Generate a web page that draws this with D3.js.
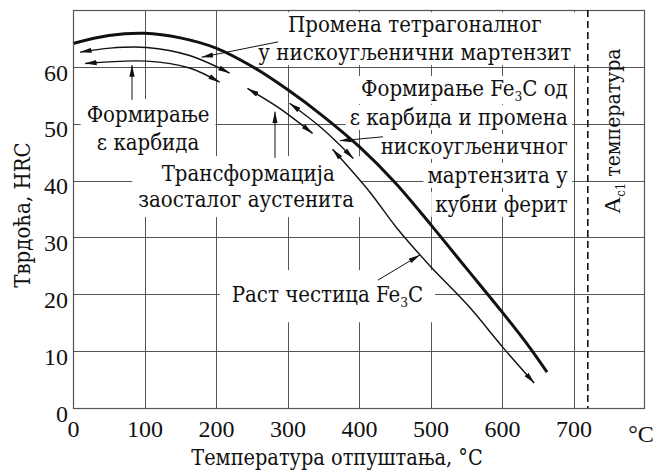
<!DOCTYPE html>
<html><head><meta charset="utf-8">
<script src="https://cdn.jsdelivr.net/npm/d3@7"></script>
<style>
html,body{margin:0;padding:0;background:#fff;}
svg{display:block;}
</style></head><body>
<svg id="chart" width="655" height="470"></svg>
<script>
// ---------------- data ----------------
const xTicks = [0, 100, 200, 300, 400, 500, 600, 700];
const yTicks = [0, 10, 20, 30, 40, 50, 60];
const tempDomain = [0, 800];
const hrcDomain = [0, 70];
const ac1Temp = 720;

// main curve: hardness vs tempering temperature
const hardnessTemp = [0, 50, 100, 150, 200, 250, 300, 350, 400, 450, 500, 550, 600, 636, 663];
const hardnessHRC  = [64.1, 65.5, 65.9, 65.1, 63.3, 60.1, 56.0, 51.3, 46.0, 39.7, 32.3, 24.6, 16.9, 11.1, 6.3];

// stage ranges (double-headed arrows along the curve)
const tetragonalTemp = [10, 52, 103, 163, 219];
const tetragonalHRC  = [62.6, 63.3, 63.4, 62.0, 58.9];
const epsCarbideTemp = [17, 103, 163, 205];
const epsCarbideHRC  = [60.6, 61.0, 59.8, 57.3];
const austeniteTemp  = [244, 289, 335];
const austeniteHRC   = [56.2, 52.7, 48.3];
const fe3cFormTemp   = [303, 348, 392];
const fe3cFormHRC    = [53.6, 49.2, 43.9];
const fe3cGrowthTemp = [363, 415, 452, 500, 552, 603, 645];
const fe3cGrowthHRC  = [45.5, 38.0, 31.8, 24.9, 18.1, 10.4, 4.4];

// annotation texts
const noteTetragonal = [["Промена тетрагоналног"], ["у нискоугљенични мартензит"]];
const noteEps = [["Формирање"], ["ε карбида"]];
const noteAust = [["Трансформација"], ["заосталог аустенита"]];
const noteFe3c = [["Формирање Fe", {sub: "3"}, "C од"], ["ε карбида и промена"], ["нискоугљеничног"], ["мартензита у"], ["кубни ферит"]];
const noteGrowth = [["Раст честица Fe", {sub: "3"}, "C"]];
const xTitle = "Температура отпуштања, °C";
const yTitle = "Тврдоћа, HRC";
const unitLabel = "°C";

// ---------------- layout ----------------
const FONT = '"Liberation Serif", "Times New Roman", serif';
const FONT_CYR = '"DejaVu Serif Condensed", "DejaVu Serif", serif';
const M = {left: 73, right: 645, top: 10, bottom: 408};
const INK = "#111";
const GRID = "#555";

const svg = d3.select("#chart");
const x = d3.scaleLinear().domain(tempDomain).range([M.left, M.right]);
const y = d3.scaleLinear().domain(hrcDomain).range([M.bottom, M.top]);

svg.append("rect").attr("width", 655).attr("height", 470).attr("fill", "#fff");

const defs = svg.append("defs");
defs.append("marker").attr("id", "ah")
  .attr("viewBox", "0 -3 12 6").attr("refX", 11.5).attr("refY", 0)
  .attr("markerWidth", 12).attr("markerHeight", 6)
  .attr("markerUnits", "userSpaceOnUse").attr("orient", "auto-start-reverse")
  .append("path").attr("d", "M0,-2.6L12,0L0,2.6Z").attr("fill", INK);

// grid
const grid = svg.append("g").attr("stroke", GRID).attr("stroke-width", 1);
grid.selectAll("line.v").data(xTicks.filter(d => d > 0)).join("line").attr("class", "v")
  .attr("x1", d => Math.round(x(d)) + 0.5).attr("x2", d => Math.round(x(d)) + 0.5)
  .attr("y1", y(hrcDomain[1])).attr("y2", y(0));
grid.selectAll("line.h").data(yTicks.filter(d => d > 0)).join("line").attr("class", "h")
  .attr("y1", d => Math.round(y(d)) + 0.5).attr("y2", d => Math.round(y(d)) + 0.5)
  .attr("x1", x(0)).attr("x2", x(tempDomain[1]));

// annotation text blocks with white backgrounds
const notesG = svg.append("g");
function appendSegs(t, segs, size) {
  let shifted = false;
  segs.forEach(s => {
    if (typeof s === "string") {
      const sp = t.append("tspan").text(s);
      if (shifted) { sp.attr("dy", -5); shifted = false; }
    } else {
      t.append("tspan").attr("font-size", size * 0.62).attr("dy", 5).text(s.sub);
      shifted = true;
    }
  });
}
function drawBlock(lines, opt) {
  const blk = notesG.append("g");
  const boxG = blk.append("g");
  const txtG = blk.append("g");
  const bx = x(opt.at[0]), by = y(opt.at[1]);
  const boxes = [];
  lines.forEach((segs, i) => {
    const t = txtG.append("text")
      .attr("x", bx + (opt.dx ? opt.dx[i] : 0))
      .attr("y", by + i * opt.lh)
      .attr("text-anchor", opt.anchor)
      .attr("font-family", FONT_CYR)
      .attr("font-size", opt.size).attr("fill", INK);
    appendSegs(t, segs, opt.size);
    boxes.push(t.node().getBBox());
  });
  let rects = boxes;
  if (!opt.perLine) {
    const x0 = d3.min(boxes, b => b.x), x1 = d3.max(boxes, b => b.x + b.width);
    const y0 = d3.min(boxes, b => b.y), y1 = d3.max(boxes, b => b.y + b.height);
    rects = [{x: x0, y: y0, width: x1 - x0, height: y1 - y0}];
  }
  const p = opt.pad;
  rects.forEach(b => boxG.append("rect")
    .attr("x", b.x - p[0]).attr("y", b.y - p[1])
    .attr("width", b.width + 2 * p[0]).attr("height", b.height + 2 * p[1])
    .attr("fill", "#fff"));
}
const NS = 22;
drawBlock(noteTetragonal, {at: [478, 66.1], anchor: "middle", lh: 28, size: NS, pad: [4, 0]});
drawBlock(noteEps, {at: [105, 50.3], anchor: "middle", lh: 28, size: NS, pad: [6, 3]});
drawBlock(noteAust, {at: [252, 39.9], anchor: "middle", lh: 26, size: NS, dx: [-5, -7], pad: [6, 5]});
drawBlock(noteFe3c, {at: [692, 54.9], anchor: "end", lh: 29, size: NS, perLine: true, pad: [4, 0]});
drawBlock(noteGrowth, {at: [222, 18.6], anchor: "start", lh: 28, size: NS, pad: [12, 12]});

// curves
const line = d3.line().x(d => x(d[0])).y(d => y(d[1])).curve(d3.curveCatmullRom.alpha(0.5));
const zip = (a, b) => a.map((v, i) => [v, b[i]]);

svg.append("path").datum(zip(hardnessTemp, hardnessHRC))
  .attr("d", line).attr("fill", "none").attr("stroke", INK).attr("stroke-width", 3);

const stages = [
  zip(tetragonalTemp, tetragonalHRC),
  zip(epsCarbideTemp, epsCarbideHRC),
  zip(austeniteTemp, austeniteHRC),
  zip(fe3cFormTemp, fe3cFormHRC),
  zip(fe3cGrowthTemp, fe3cGrowthHRC)
];
svg.append("g").selectAll("path").data(stages).join("path")
  .attr("d", line).attr("fill", "none").attr("stroke", INK).attr("stroke-width", 1.4)
  .attr("marker-start", "url(#ah)").attr("marker-end", "url(#ah)");

// pointer arrows from annotations (data coords)
const pointers = [
  [[287, 64.4], [180, 61.7]],
  [[82.5, 54.2], [82.5, 60.3]],
  [[282.5, 44.0], [282.5, 52.1]],
  [[433.6, 47.7], [373.4, 47.0]],
  [[426.6, 22.5], [485, 26.9]]
];
svg.append("g").selectAll("line").data(pointers).join("line")
  .attr("x1", d => x(d[0][0])).attr("y1", d => y(d[0][1]))
  .attr("x2", d => x(d[1][0])).attr("y2", d => y(d[1][1]))
  .attr("stroke", INK).attr("stroke-width", 1).attr("marker-end", "url(#ah)");

// frame
svg.append("rect").attr("x", x(0) + 0.5).attr("y", y(hrcDomain[1]) + 0.5)
  .attr("width", x(tempDomain[1]) - x(0) - 1).attr("height", y(0) - y(hrcDomain[1]))
  .attr("fill", "none").attr("stroke", GRID).attr("stroke-width", 1.2);

// Ac1 dashed line
svg.append("line").attr("x1", x(ac1Temp)).attr("x2", x(ac1Temp))
  .attr("y1", y(hrcDomain[1])).attr("y2", y(0))
  .attr("stroke", INK).attr("stroke-width", 1.6).attr("stroke-dasharray", "7,4");

// Ac1 rotated label
const ac1 = svg.append("text")
  .attr("transform", `translate(${x(765)},${y(34.1)}) rotate(-90)`)
  .attr("font-family", FONT_CYR).attr("font-size", 21).attr("fill", INK);
ac1.append("tspan").attr("font-family", FONT).attr("font-size", 24).text("A");
ac1.append("tspan").attr("font-size", 13).attr("dy", 5).text("c1");
ac1.append("tspan").attr("dy", -5).text(" температура");

// axes tick labels
const xAxis = svg.append("g").attr("transform", `translate(0,${y(0)})`)
  .call(d3.axisBottom(x).tickValues(xTicks).tickSize(0).tickPadding(12).tickFormat(d3.format("d")));
xAxis.select(".domain").remove();
xAxis.attr("font-family", FONT).attr("font-size", 24);
xAxis.selectAll("text").attr("fill", INK);

const yAxis = svg.append("g").attr("transform", `translate(${x(0)},0)`)
  .call(d3.axisLeft(y).tickValues(yTicks).tickSize(0).tickPadding(5).tickFormat(d3.format("d")));
yAxis.select(".domain").remove();
yAxis.attr("font-family", FONT).attr("font-size", 24);
yAxis.selectAll("text").attr("fill", INK).attr("dy", "0.55em");

svg.append("text").attr("x", M.right - 4).attr("y", 442).attr("text-anchor", "middle")
  .attr("font-family", FONT).attr("font-size", 24).attr("fill", INK).text(unitLabel);

// axis titles
svg.append("text").attr("x", 337).attr("y", 465).attr("text-anchor", "middle")
  .attr("font-family", FONT_CYR).attr("font-size", 21.5).attr("fill", INK).text(xTitle);
svg.append("text").attr("transform", "translate(30,215) rotate(-90)").attr("text-anchor", "middle")
  .attr("font-family", FONT_CYR).attr("font-size", 22).attr("fill", INK).text(yTitle);
</script>
</body></html>
